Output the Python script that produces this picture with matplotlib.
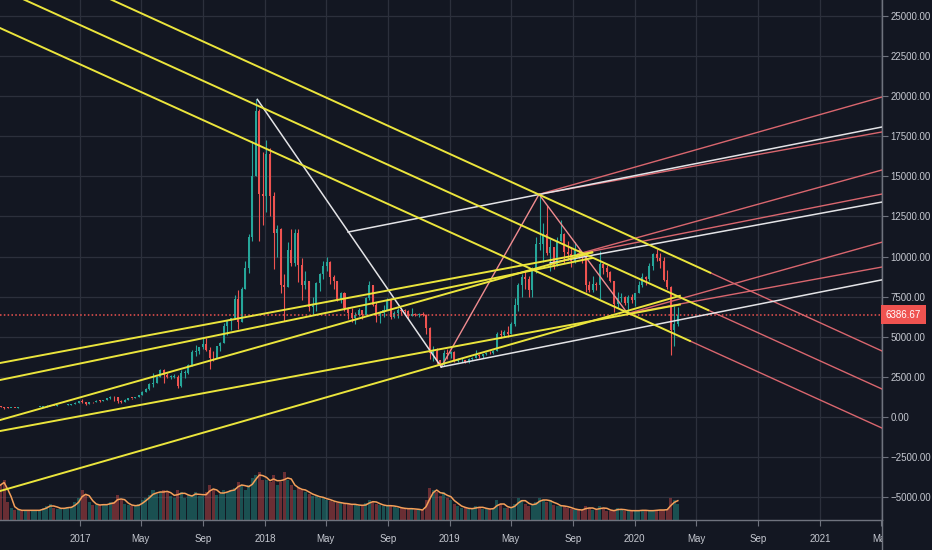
import numpy as np
import pandas as pd
import matplotlib
matplotlib.use('Agg')
import matplotlib.pyplot as plt
import matplotlib.dates as mdates
from matplotlib.transforms import blended_transform_factory
from matplotlib.lines import Line2D
from matplotlib.patches import Rectangle

plt.rcParams['font.family'] = ['Liberation Sans', 'DejaVu Sans']

# weekly BTCUSD candles, weeks starting Monday 2016-07-25
first_open = 655
close_2016 = [624, 590, 570, 581, 573, 608, 606, 608, 602, 612, 616, 640, 655, 700, 710, 702,
              730, 732, 765, 775, 790, 895, 995]
high_2016 = [660, 630, 600, 585, 585, 612, 630, 612, 610, 615, 620, 642, 658, 720, 745, 715,
             750, 740, 770, 780, 795, 920, 1000]
low_2016 = [620, 480, 570, 565, 565, 570, 600, 600, 595, 600, 610, 610, 630, 650, 690, 680,
            700, 720, 730, 760, 770, 790, 890]

close_2017 = [910, 820, 920, 915, 1020, 1000, 1050, 1170, 1270, 1230, 970, 960, 1090, 1200, 1180,
              1240, 1350, 1580, 1760, 2050, 2100, 2520, 2950, 2600, 2500, 2500, 2500, 1920, 2750,
              2750, 3230, 4050, 4090, 4350, 4580, 4200, 3700, 3650, 4400, 4600, 5700, 6000, 6150,
              7380, 5950, 8000, 9300, 11200, 15000, 19100, 13900, 13800]
high_2017 = [1150, 920, 930, 930, 1040, 1080, 1060, 1200, 1290, 1330, 1260, 1060, 1100, 1210, 1215,
             1260, 1360, 1620, 1800, 2100, 2760, 2550, 3000, 2980, 2760, 2600, 2650, 2600, 2900,
             2900, 3300, 4200, 4480, 4380, 4980, 4900, 4350, 4120, 4450, 4650, 5850, 6000, 6200,
             7600, 7900, 8100, 9700, 11400, 17200, 19800, 19200, 16500]
low_2017 = [850, 750, 800, 880, 915, 950, 990, 1040, 1150, 980, 900, 890, 930, 1080, 1150,
            1180, 1240, 1350, 1550, 1700, 1900, 2100, 2500, 2100, 2450, 2380, 2450, 1830, 1900,
            2450, 2650, 3150, 3800, 3900, 4250, 4100, 2970, 3500, 3650, 4130, 4600, 5100, 5400,
            6100, 5500, 5900, 8000, 9000, 11000, 15000, 11000, 12000]

close_2018 = [16400, 13800, 11500, 11700, 8200, 8100, 10400, 9600, 11500, 9500, 8200, 8450, 6850,
              7000, 8350, 8900, 9400, 9650, 8700, 8500, 7350, 7700, 6780, 6460, 6150, 6370, 6700,
              6350, 7400, 8200, 7000, 6300, 6500, 6700, 7300, 6250, 6500, 6700, 6620, 6600, 6300,
              6400, 6350, 6400, 6350, 5560, 4000, 4100, 3550, 3250, 4000, 3900, 4050]
high_2018 = [17250, 16800, 14000, 12000, 11800, 8900, 10900, 11700, 11700, 11700, 9900, 9100, 8500,
             7500, 8400, 9000, 9750, 9990, 9700, 8880, 8500, 7780, 7800, 6850, 6800, 6550, 6800,
             6700, 7500, 8500, 8200, 7150, 6600, 7000, 7400, 7400, 6600, 6800, 6800, 6750, 6650,
             6800, 6470, 6500, 6550, 6450, 5600, 4400, 4300, 3550, 4200, 4250, 4100]
low_2018 = [12750, 12500, 9200, 10000, 7700, 6000, 8100, 9400, 9400, 8400, 7300, 8000, 6600,
            6450, 6600, 7850, 8600, 9100, 8300, 7950, 7250, 7100, 6600, 6100, 5900, 5800, 6300,
            6100, 6350, 7300, 6900, 5900, 5850, 6250, 6700, 6100, 6150, 6200, 6400, 6450, 6100,
            6300, 6300, 6250, 6300, 5200, 3600, 3500, 3300, 3150, 3200, 3600, 3650]

close_2019 = [3500, 3540, 3540, 3440, 3620, 3700, 3850, 3800, 3900, 4000, 3980, 4100, 5200, 5100,
              5300, 5200, 5800, 7000, 8200, 8700, 8600, 7900, 9300, 10800, 10800, 11400, 10200,
              10600, 9500, 11000, 11400, 10300, 10150, 9700, 10400, 10300, 10000, 8200, 7900, 8300,
              8200, 9550, 9300, 9050, 8500, 7050, 7400, 7500, 7100, 7500, 7300, 7700]
high_2019 = [4100, 3700, 3650, 3560, 3700, 3720, 4200, 3900, 3950, 4030, 4100, 4150, 5300, 5450,
             5400, 5650, 5900, 7400, 8350, 8900, 9080, 8800, 9350, 11200, 13880, 12100, 13200,
             11100, 10600, 11200, 12300, 11500, 10950, 10600, 10900, 10450, 10300, 10000, 8500,
             8800, 8400, 10350, 9600, 9450, 9100, 8500, 7800, 7700, 7550, 7600, 7650, 7700]
low_2019 = [3450, 3450, 3450, 3350, 3380, 3560, 3700, 3700, 3670, 3850, 3950, 3900, 4100, 4950,
            5000, 5000, 5150, 5700, 6600, 7500, 8000, 7450, 7500, 9000, 10400, 9650, 10100, 9100,
            9200, 9400, 11000, 9600, 9800, 9350, 9600, 9900, 9600, 7800, 7800, 7800, 7900, 7350,
            8900, 8700, 8400, 6550, 6800, 7200, 7000, 6430, 7100, 6900]

close_2020 = [8200, 8700, 8600, 9400, 10150, 9900, 9700, 8550, 8100, 5400, 5800, 6386.67]
high_2020 = [8450, 9000, 8800, 9600, 10200, 10500, 10250, 9950, 9180, 8150, 6900, 6850]
low_2020 = [7700, 8100, 8250, 8500, 9150, 9700, 9300, 8450, 8000, 3850, 4450, 5700]

# weekly volume (arbitrary units)
volume_2016 = [35, 40, 18, 12, 10, 10, 9, 10, 10, 9, 10, 10, 12, 14, 16, 12, 11, 12, 12, 13, 13, 18, 22]
volume_2017 = [30, 25, 18, 15, 15, 15, 16, 15, 18, 18, 25, 20, 16, 15, 14, 14, 16, 20, 22, 25, 30,
               26, 28, 30, 28, 24, 22, 30, 28, 22, 25, 25, 28, 24, 24, 28, 35, 30, 25, 26, 30, 28,
               30, 32, 38, 35, 30, 35, 42, 45, 48, 40]
volume_2018 = [40, 38, 45, 35, 38, 48, 40, 35, 30, 32, 30, 28, 26, 24, 24, 22, 22, 20, 19, 18, 17,
               17, 16, 16, 15, 16, 14, 14, 17, 20, 18, 16, 15, 14, 14, 15, 13, 12, 12, 11, 11, 12,
               10, 10, 10, 20, 32, 30, 28, 24, 28, 22, 20]
volume_2019 = [16, 14, 12, 12, 11, 11, 14, 13, 11, 11, 11, 12, 20, 16, 12, 12, 13, 16, 22, 20, 16,
               14, 16, 18, 22, 20, 18, 20, 15, 14, 14, 14, 12, 11, 10, 10, 10, 14, 12, 10, 10, 14,
               12, 9, 9, 10, 12, 10, 9, 10, 9, 9]
volume_2020 = [10, 10, 9, 9, 10, 10, 10, 10, 11, 22, 20, 16]

last_price = 6386.67

# drawn lines, (date, price) anchors
# falling channel: yellow up to the switch date, pink after it
falling = [
    ('2016-07-27', 24250, '2021-05-03', -690, '2020-04-19'),
    ('2016-09-14', 26000, '2021-05-03', 1745, '2020-05-25'),
    ('2017-03-05', 26000, '2021-05-03', 4115, '2020-05-29'),
]
rising = [
    ('2016-07-27', 3366, '2019-10-09', 10270),
    ('2016-07-27', 2307, '2019-10-09', 9910),
    ('2016-07-27', -190, '2019-10-09', 10255),
    ('2016-07-27', -875, '2020-03-30', 7010),
    ('2016-07-27', -4615, '2020-03-30', 7555),
]
white_lines = [
    ('2017-12-17', 19800, '2018-12-15', 3120),
    ('2018-06-14', 11530, '2021-05-03', 18080),
    ('2019-07-18', 9600, '2021-05-03', 13400),
    ('2018-12-15', 3120, '2021-05-03', 8550),
]
swing = [
    ('2018-12-15', 3120, '2019-06-26', 13880),
    ('2019-06-26', 13880, '2019-12-18', 6450),
]
fan = [
    ('2019-06-26', 13880, '2021-05-03', 19950),
    ('2019-06-26', 13880, '2021-05-03', 17770),
    ('2019-09-11', 10160, '2021-05-03', 15400),
    ('2019-09-11', 10160, '2021-05-03', 13900),
    ('2019-12-18', 6450, '2021-05-03', 10900),
    ('2019-12-18', 6450, '2021-05-03', 9350),
]

bg = '#131722'
grid_c = '#2c303c'
up_c = '#26a69a'
down_c = '#ef5350'
yellow = '#ebe53c'
pink = '#d9666e'
white = '#e3e3e6'

close = close_2016 + close_2017 + close_2018 + close_2019 + close_2020
high = np.array(high_2016 + high_2017 + high_2018 + high_2019 + high_2020, float)
low = np.array(low_2016 + low_2017 + low_2018 + low_2019 + low_2020, float)
vol = np.array(volume_2016 + volume_2017 + volume_2018 + volume_2019 + volume_2020, float)

weeks = pd.date_range('2016-07-25', periods=len(close), freq='7D')
t = mdates.date2num(weeks) + 3.0
c = np.array(close, float)
o = np.r_[first_open, c[:-1]]
is_up = c >= o
col = np.where(is_up, up_c, down_c)

fig = plt.figure(figsize=(9.32, 5.5), dpi=100, facecolor=bg)
ax = fig.add_axes([0, 30 / 550, 882 / 932, 520 / 550])
ax.set_facecolor(bg)

# volume in the lower part of the pane
vtr = blended_transform_factory(ax.transData, ax.transAxes)
ax.bar(t, vol / 520, width=6, bottom=0, color=col, alpha=0.4, lw=0, transform=vtr, zorder=1)
ma = pd.Series(vol).rolling(3, min_periods=1).mean()
ax.plot(t, ma / 520, color='#f5a05a', lw=1.1, transform=vtr, zorder=2)

# candles
ax.vlines(t, low, high, colors=col, lw=0.8, zorder=3)
ax.bar(t, np.maximum(np.abs(c - o), 40), bottom=np.minimum(o, c), width=4,
       color=col, lw=0, zorder=4)

ax.axhline(last_price, color=down_c, lw=1.1, ls=(0, (1, 1.5)), zorder=4)


def num(d):
    return mdates.datestr2num(d)


def seg(d0, p0, d1, p1, a, b):
    x0, x1 = num(d0), num(d1)
    xa, xb = num(a), num(b)
    k = (p1 - p0) / (x1 - x0)
    return [xa, xb], [p0 + k * (xa - x0), p0 + k * (xb - x0)]


left, right = '2016-07-27', '2021-05-03'
for d0, p0, d1, p1, sw in falling:
    xs, ys = seg(d0, p0, d1, p1, left, sw)
    ax.plot(xs, ys, color=yellow, lw=1.4, zorder=6)
    xs, ys = seg(d0, p0, d1, p1, sw, right)
    ax.plot(xs, ys, color=pink, lw=1.0, zorder=5)
for d0, p0, d1, p1 in rising:
    ax.plot([num(d0), num(d1)], [p0, p1], color=yellow, lw=1.4, zorder=6)
for d0, p0, d1, p1 in fan:
    ax.plot([num(d0), num(d1)], [p0, p1], color=pink, lw=1.0, zorder=5)
for d0, p0, d1, p1 in swing:
    ax.plot([num(d0), num(d1)], [p0, p1], color='#f08c90', lw=1.0, zorder=5)
for d0, p0, d1, p1 in white_lines:
    ax.plot([num(d0), num(d1)], [p0, p1], color=white, lw=1.1, zorder=5)

ax.set_xlim(num(left), num(right))
ax.set_ylim(-6421, 25996)

yt = np.arange(-5000, 25001, 2500)
ax.yaxis.tick_right()
ax.set_yticks(yt)
ax.set_yticklabels([f'{v:.2f}'.replace('-', '\u2212') for v in yt])
xt = pd.date_range('2017-01-01', '2021-05-01', freq='4MS')
ax.set_xticks(mdates.date2num(xt))
ax.set_xticklabels([str(d.year) if d.month == 1 else d.strftime('%b') for d in xt])
ax.tick_params(axis='both', colors='#6f737e', labelcolor='#c5c8d0', labelsize=7, length=4)
ax.tick_params(axis='y', pad=2)
ax.tick_params(axis='x', pad=6)
ax.grid(True, color=grid_c, lw=0.9)
ax.set_axisbelow(True)
for s in ['top', 'left']:
    ax.spines[s].set_visible(False)
for s in ['right', 'bottom']:
    ax.spines[s].set_color('#6f737e')
    ax.spines[s].set_linewidth(1.0)

trp = blended_transform_factory(ax.transAxes, ax.transData)
ax.text(1.004, last_price, f'{last_price:.2f}', transform=trp, ha='left', va='center',
        color='white', fontsize=7, zorder=10, clip_on=False,
        bbox=dict(boxstyle='square,pad=0.5', fc=down_c, ec='none'))

# price scale panel hides the cut date label and carries the separator
fig.add_artist(Rectangle((883 / 932, 0), 49 / 932, 29 / 550, transform=fig.transFigure,
                         fc=bg, ec='none', zorder=5))
fig.add_artist(Line2D([882 / 932, 882 / 932], [0, 30 / 550], transform=fig.transFigure,
                      color='#6f737e', lw=1.0, zorder=6))

fig.savefig('out.png', dpi=100, facecolor=bg)
